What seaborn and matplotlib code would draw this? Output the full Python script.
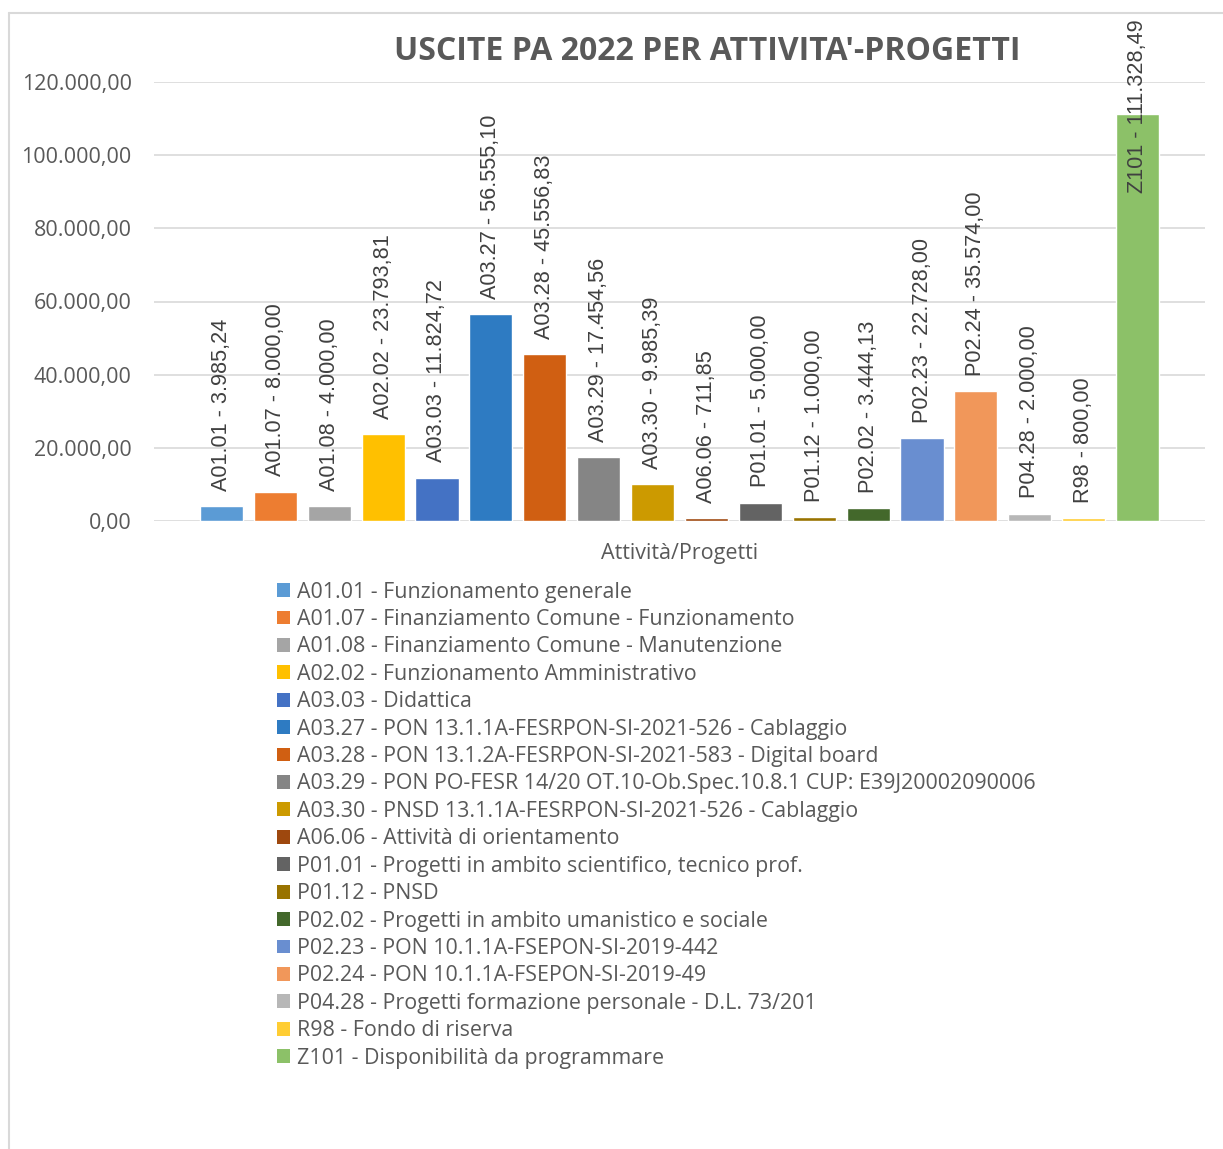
import pandas as pd
import matplotlib.pyplot as plt
import seaborn as sns
from matplotlib.patches import Patch
from matplotlib.lines import Line2D

# Dati
codes = ["A01.01", "A01.07", "A01.08", "A02.02", "A03.03", "A03.27", "A03.28",
         "A03.29", "A03.30", "A06.06", "P01.01", "P01.12", "P02.02", "P02.23",
         "P02.24", "P04.28", "R98", "Z101"]
values = [3985.24, 8000.00, 4000.00, 23793.81, 11824.72, 56555.10, 45556.83,
          17454.56, 9985.39, 711.85, 5000.00, 1000.00, 3444.13, 22728.00,
          35574.00, 2000.00, 800.00, 111328.49]
names = ["Funzionamento generale",
         "Finanziamento Comune - Funzionamento",
         "Finanziamento Comune - Manutenzione",
         "Funzionamento Amministrativo",
         "Didattica",
         "PON 13.1.1A-FESRPON-SI-2021-526 - Cablaggio",
         "PON 13.1.2A-FESRPON-SI-2021-583 - Digital board",
         "PON PO-FESR 14/20 OT.10-Ob.Spec.10.8.1 CUP: E39J20002090006",
         "PNSD 13.1.1A-FESRPON-SI-2021-526 - Cablaggio",
         "Attività di orientamento",
         "Progetti in ambito scientifico, tecnico prof.",
         "PNSD",
         "Progetti in ambito umanistico e sociale",
         "PON 10.1.1A-FSEPON-SI-2019-442",
         "PON 10.1.1A-FSEPON-SI-2019-49",
         "Progetti formazione personale - D.L. 73/201",
         "Fondo di riserva",
         "Disponibilità da programmare"]
colors = ["#5B9BD5", "#ED7D31", "#A5A5A5", "#FFC000", "#4472C4", "#2E7BC2",
          "#D05F12", "#858585", "#CC9A00", "#9E480E", "#636363", "#997300",
          "#43682B", "#698ED0", "#F1975A", "#B7B7B7", "#FFCD33", "#8CC168"]
yticks = [0, 20000, 40000, 60000, 80000, 100000, 120000]

title = "USCITE PA 2022 PER ATTIVITA'-PROGETTI"
xlabel = "Attività/Progetti"


def it_fmt(v):
    return f"{v:,.2f}".replace(",", "X").replace(".", ",").replace("X", ".")


df = pd.DataFrame({"code": codes, "value": values})

sns.set_theme(style="white")
plt.rcParams['font.family'] = ['Open Sans', 'DejaVu Sans']

fig = plt.figure(figsize=(12.23, 11.49), dpi=100)
ax = fig.add_axes([154 / 1223, 1 - 521 / 1149, 1051 / 1223, 439 / 1149])

sns.barplot(data=df, x="code", y="value", hue="code", palette=colors,
            width=0.8, legend=False, ax=ax, saturation=1, zorder=3)

ax.set_ylim(0, 120000)
ax.set_xlim(-1.25, 18.25)
ax.set_yticks(yticks)
ax.set_yticklabels([it_fmt(t) for t in yticks], fontsize=15.5, color="#595959")
ax.set_xticks([(len(codes) - 1) / 2])
ax.set_xticklabels([xlabel], fontsize=15.5, color="#595959")
ax.set_xlabel("")
ax.set_ylabel("")
ax.tick_params(axis="y", length=0, pad=16)
ax.tick_params(axis="x", length=0, pad=16)
ax.grid(axis="y", color="#D9D9D9", linewidth=1.2, zorder=0)
for s in ax.spines.values():
    s.set_visible(False)

# etichette dati
for i, (c, v) in enumerate(zip(codes, values)):
    label = f"{c} - {it_fmt(v)}"
    if v > 100000:
        ax.text(i, 1.142, label, transform=ax.get_xaxis_transform(),
                rotation=90, ha="center", va="top", fontsize=15.6,
                family="Liberation Sans", color="#404040", zorder=5, clip_on=False)
    else:
        ax.annotate(label, (i, v), xytext=(0, 11), textcoords="offset points",
                    rotation=90, ha="center", va="bottom", fontsize=15.6,
                    family="Liberation Sans", color="#404040", zorder=5)

fig.text(707 / 1223, 1 - 52 / 1149, title, ha="center", va="center",
         fontsize=23, fontweight="bold", color="#595959")

handles = [Patch(facecolor=col, edgecolor="none") for col in colors]
labels = [f"{c} - {n}" for c, n in zip(codes, names)]
fig.legend(handles, labels, loc="upper left",
           bbox_to_anchor=(268 / 1223, 1 - 573 / 1149), frameon=False,
           fontsize=15.4, labelcolor="#595959", handlelength=0.62,
           handleheight=0.62, handletextpad=0.33, labelspacing=0.3,
           borderaxespad=0)

# bordo dell'area grafico
fig.add_artist(Line2D([9 / 1223, 9 / 1223], [0, 1 - 13 / 1149],
                      transform=fig.transFigure, color="#D9D9D9", linewidth=1.5))
fig.add_artist(Line2D([9 / 1223, 1], [1 - 13 / 1149, 1 - 13 / 1149],
                      transform=fig.transFigure, color="#D9D9D9", linewidth=1.5))

fig.savefig("out.png", dpi=100, facecolor="white")
